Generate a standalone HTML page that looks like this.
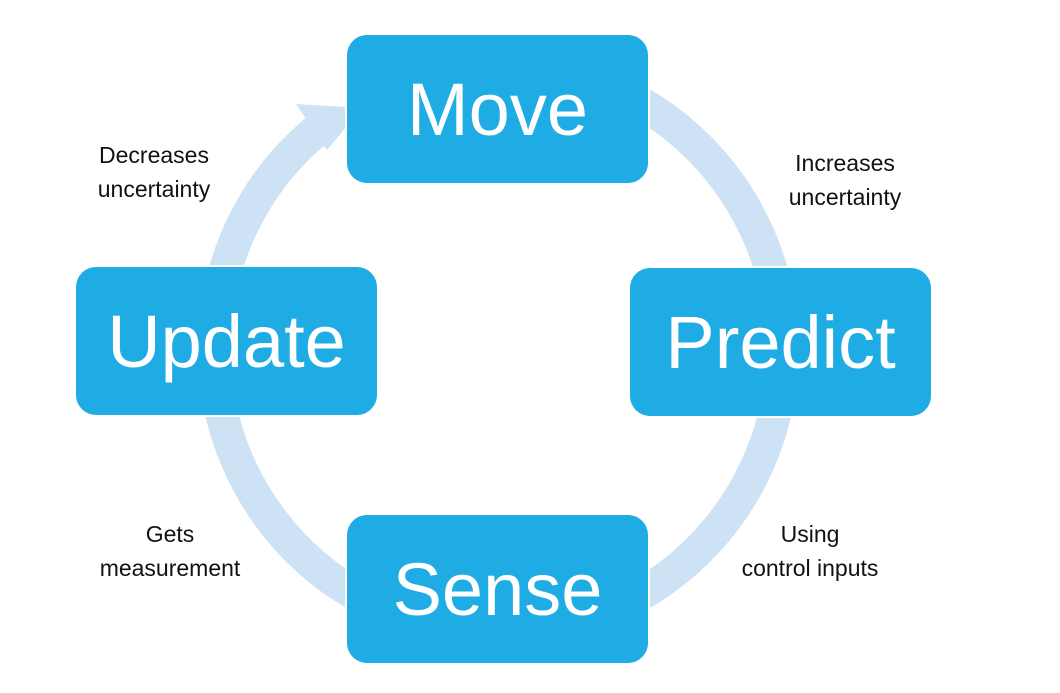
<!DOCTYPE html>
<html><head><style>
body{margin:0;width:1060px;height:693px;background:#fff;position:relative;overflow:hidden;font-family:"Liberation Sans",sans-serif}
.b{position:absolute;width:301px;height:148px;background:#1fabe3;border-radius:20px;color:#fff;font-size:74px;display:flex;align-items:center;justify-content:center;box-shadow:0 0 0 2px #fff}
.t{position:absolute;font-size:23px;color:#111;text-align:center;line-height:34px}
</style></head><body>
<svg width="1060" height="693" style="position:absolute;left:0;top:0">
<path d="M322 126 A284 284 0 1 0 398 83" fill="none" stroke="#cde2f4" stroke-width="33"/>
<polygon points="296,104 362,108 327,150" fill="#cde2f4"/>
</svg>
<div class="b" style="left:347px;top:35px">Move</div>
<div class="b" style="left:630px;top:268px">Predict</div>
<div class="b" style="left:347px;top:515px">Sense</div>
<div class="b" style="left:76px;top:267px">Update</div>
<div class="t" style="left:64px;top:138px;width:180px">Decreases<br>uncertainty</div>
<div class="t" style="left:755px;top:146px;width:180px">Increases<br>uncertainty</div>
<div class="t" style="left:80px;top:517px;width:180px">Gets<br>measurement</div>
<div class="t" style="left:715px;top:517px;width:190px">Using<br>control inputs</div>
</body></html>
